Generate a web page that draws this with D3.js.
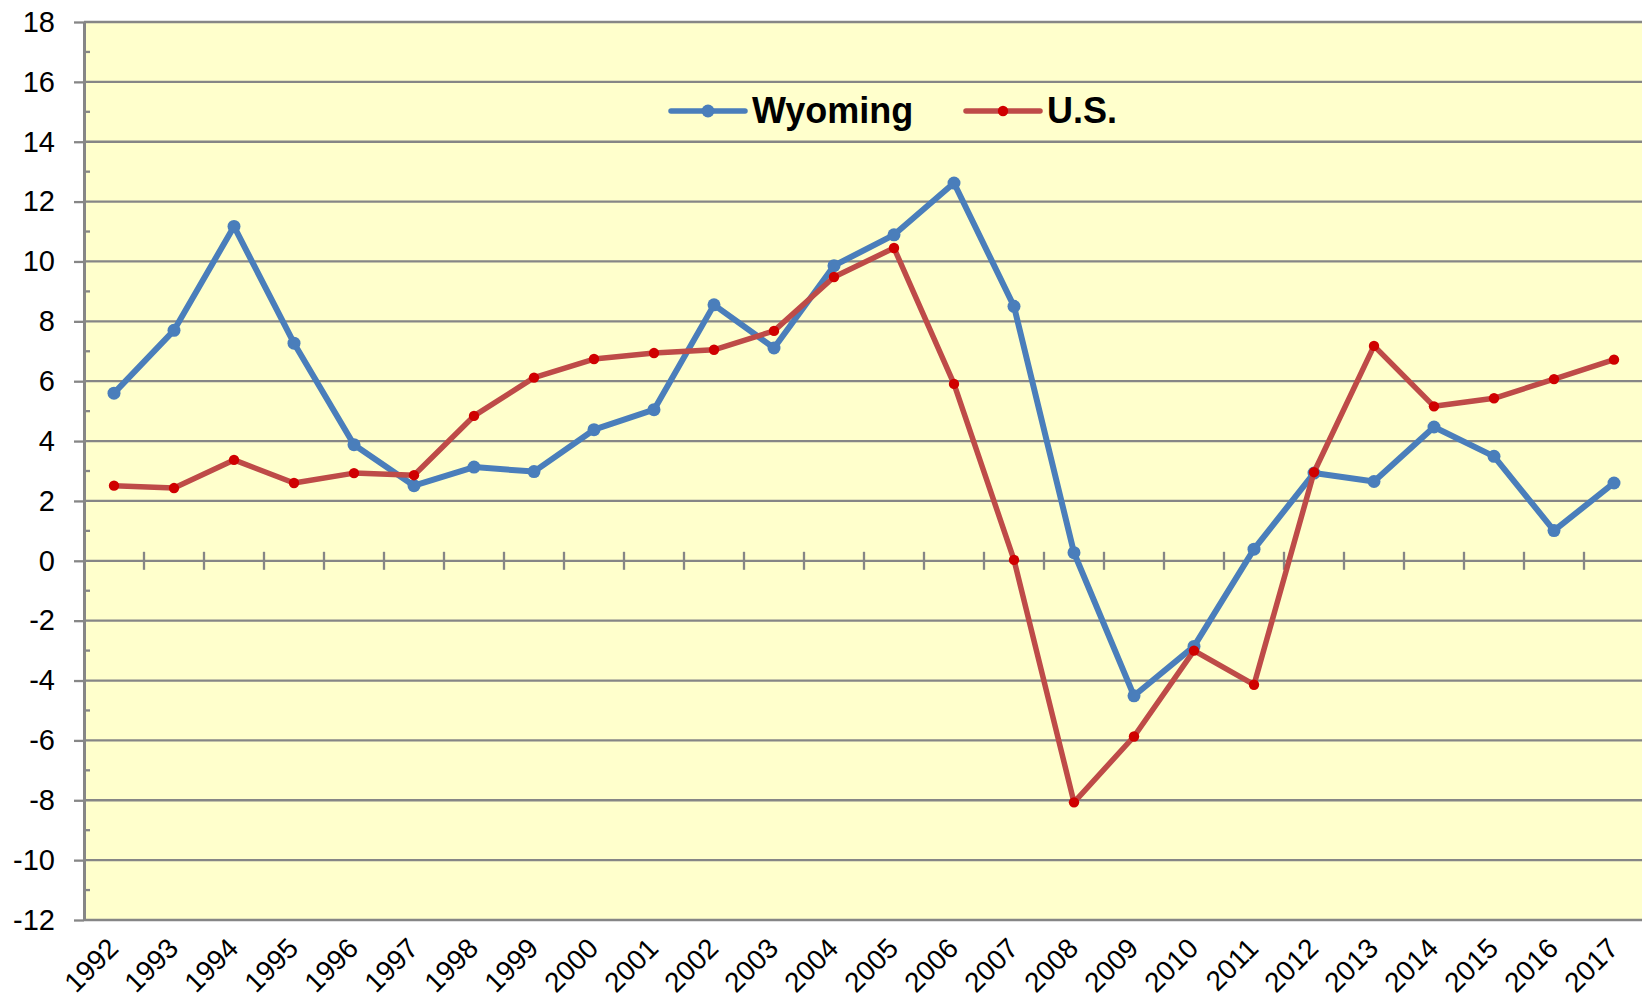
<!DOCTYPE html>
<html>
<head>
<meta charset="utf-8">
<script src="https://cdn.jsdelivr.net/npm/d3@7"></script>
<style>
	body { margin: 0; background: #fff; }
	svg { display: block; font-family: 'Liberation Sans', Arial, sans-serif; }
</style>
</head>
<body>
<svg id="svg"></svg>
<script>
const years = ['1992', '1993', '1994', '1995', '1996', '1997', '1998', '1999', '2000', '2001', '2002', '2003', '2004',
	'2005', '2006', '2007', '2008', '2009', '2010', '2011', '2012', '2013', '2014', '2015', '2016', '2017'];
const wyoming = [5.6, 7.7, 11.17, 7.27, 3.88, 2.51, 3.13, 2.98, 4.38, 5.05, 8.55, 7.11, 9.86,
	10.89, 12.62, 8.5, 0.27, -4.51, -2.86, 0.39, 2.93, 2.65, 4.47, 3.49, 1.01, 2.6];
const us = [2.51, 2.43, 3.37, 2.6, 2.93, 2.86, 4.84, 6.12, 6.74, 6.94, 7.05, 7.68, 9.48,
	10.45, 5.91, 0.03, -8.07, -5.87, -3.0, -4.14, 2.96, 7.18, 5.16, 5.43, 6.07, 6.72];
const yTicks = [-12, -10, -8, -6, -4, -2, 0, 2, 4, 6, 8, 10, 12, 14, 16, 18];
const yMinorTicks = [-11, -9, -7, -5, -3, -1, 1, 3, 5, 7, 9, 11, 13, 15, 17];

const series = [
	{ name: 'Wyoming', values: wyoming, line: '#4a7ebb', marker: '#4a7ebb', width: 6, r: 6.5 },
	{ name: 'U.S.', values: us, line: '#be4b48', marker: '#d00000', width: 5.5, r: 5.2 }
];

const width = 1642;
const height = 1000;
const marginLeft = 84;
const marginTop = 22;
const plotBottom = 920;
const gridColor = '#868686';

const svg = d3.select('#svg').attr('width', width).attr('height', height);

const x = d3.scaleBand()
	.domain(years)
	.range([marginLeft, marginLeft + 60 * years.length]);
const y = d3.scaleLinear()
	.domain([-12, 18])
	.range([plotBottom, marginTop]);

// plot background
svg.append('rect')
	.attr('x', marginLeft)
	.attr('y', marginTop)
	.attr('width', width - marginLeft)
	.attr('height', plotBottom - marginTop)
	.attr('fill', '#ffffcc');

// horizontal gridlines
svg.append('g')
	.selectAll('line')
	.data(yTicks)
	.enter()
	.append('line')
		.attr('x1', marginLeft)
		.attr('x2', width)
		.attr('y1', d => y(d))
		.attr('y2', d => y(d))
		.attr('stroke', gridColor)
		.attr('stroke-width', 2.3);

// y axis with outer major ticks (plain hyphen for negatives, as in the original)
const yAxis = svg.append('g')
	.attr('transform', `translate(${marginLeft},0)`)
	.call(d3.axisLeft(y)
		.tickValues(yTicks)
		.tickFormat(d => String(d))
		.tickSize(10)
		.tickPadding(19)
		.tickSizeOuter(0));
yAxis.select('.domain').attr('stroke', gridColor).attr('stroke-width', 3);
yAxis.selectAll('.tick line').attr('stroke', gridColor).attr('stroke-width', 2.3);
yAxis.selectAll('.tick text')
	.attr('font-size', 29)
	.attr('font-family', "'Liberation Sans', Arial, sans-serif")
	.attr('fill', '#000');

// inner minor ticks
svg.append('g')
	.selectAll('line')
	.data(yMinorTicks)
	.enter()
	.append('line')
		.attr('x1', marginLeft)
		.attr('x2', marginLeft + 6)
		.attr('y1', d => y(d))
		.attr('y2', d => y(d))
		.attr('stroke', gridColor)
		.attr('stroke-width', 2.3);

// category ticks crossing the zero line
svg.append('g')
	.selectAll('line')
	.data(years.slice(1))
	.enter()
	.append('line')
		.attr('x1', d => x(d))
		.attr('x2', d => x(d))
		.attr('y1', y(0) - 9)
		.attr('y2', y(0) + 9)
		.attr('stroke', gridColor)
		.attr('stroke-width', 2.3);

// year labels along the bottom
svg.append('g')
	.selectAll('text')
	.data(years)
	.enter()
	.append('text')
		.attr('transform', d => `translate(${x(d) + x.bandwidth() / 2 + 6},${plotBottom + 30}) rotate(-45)`)
		.attr('text-anchor', 'end')
		.attr('font-size', 28)
		.text(d => d);

// series lines and markers
const line = d3.line()
	.x((d, i) => x(years[i]) + x.bandwidth() / 2)
	.y(d => y(d));

series.forEach(s => {
	svg.append('path')
		.datum(s.values)
		.attr('d', line)
		.attr('fill', 'none')
		.attr('stroke', s.line)
		.attr('stroke-width', s.width)
		.attr('stroke-linejoin', 'round');
	svg.append('g')
		.selectAll('circle')
		.data(s.values)
		.enter()
		.append('circle')
			.attr('cx', (d, i) => x(years[i]) + x.bandwidth() / 2)
			.attr('cy', d => y(d))
			.attr('r', s.r)
			.attr('fill', s.marker);
});

// legend
const legendX = [671, 966];
const legendG = svg.append('g')
	.selectAll('g')
	.data(series)
	.enter()
	.append('g')
		.attr('transform', (d, i) => `translate(${legendX[i]},111)`);
legendG.append('line')
	.attr('x1', 0)
	.attr('x2', 74)
	.attr('stroke', d => d.line)
	.attr('stroke-width', 5.5)
	.attr('stroke-linecap', 'round');
legendG.append('circle')
	.attr('cx', 37)
	.attr('r', d => d.r)
	.attr('fill', d => d.marker);
legendG.append('text')
	.attr('x', 81)
	.attr('y', 12)
	.attr('font-size', 36)
	.attr('font-weight', 'bold')
	.text(d => d.name);
</script>
</body>
</html>
